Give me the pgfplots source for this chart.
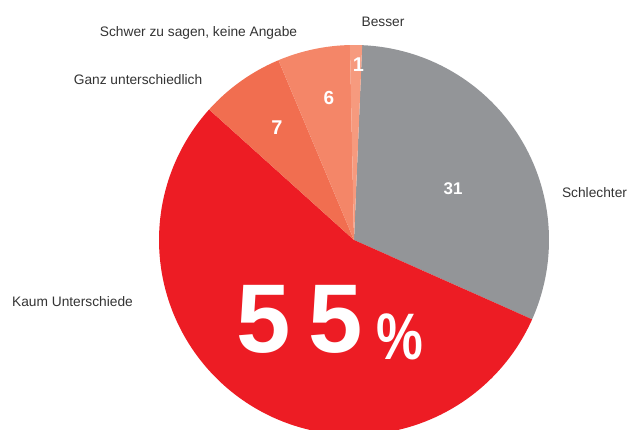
\documentclass[border=0pt]{standalone}
\usepackage{pgfplots}
\pgfplotsset{compat=1.18}
\usepackage{fontspec}
\setmainfont{Liberation Sans}
\definecolor{cGray}{HTML}{939598}
\definecolor{cRed}{HTML}{ED1C24}
\definecolor{cO1}{HTML}{F16E50}
\definecolor{cO2}{HTML}{F48668}
\definecolor{cO3}{HTML}{F69A7E}
\definecolor{txt}{HTML}{333333}
\begin{document}
\begin{tikzpicture}
\path[use as bounding box] (0,0) rectangle (633bp,430bp);
% slice values (percent), clockwise from top
\def\vS{31}\def\vK{55}\def\vG{7}\def\vW{6}\def\vB{1}
\def\cx{354}\def\cy{190}\def\R{195}
\pgfmathsetmacro\aA{87.6}
\pgfmathsetmacro\aB{\aA-3.6*\vS}
\pgfmathsetmacro\aC{\aB-3.6*\vK}
\pgfmathsetmacro\aD{\aC-3.6*\vG}
\pgfmathsetmacro\aE{\aD-3.6*\vW}
\pgfmathsetmacro\aF{\aE-3.6*\vB}
\begin{axis}[at={(0,0)},anchor=south west,width=633bp,height=430bp,scale only axis,
  xmin=0,xmax=633,ymin=0,ymax=430,hide axis,clip=true]
\addplot[fill=cGray,draw=none,domain=\aB:\aA,samples=120,variable=\t]
  ({\cx+\R*cos(\t)},{\cy+\R*sin(\t)}) -- (axis cs:\cx,\cy) -- cycle;
\addplot[fill=cRed,draw=none,domain=\aC:\aB,samples=180,variable=\t]
  ({\cx+\R*cos(\t)},{\cy+\R*sin(\t)}) -- (axis cs:\cx,\cy) -- cycle;
\addplot[fill=cO1,draw=none,domain=\aD:\aC,samples=40,variable=\t]
  ({\cx+\R*cos(\t)},{\cy+\R*sin(\t)}) -- (axis cs:\cx,\cy) -- cycle;
\addplot[fill=cO2,draw=none,domain=\aE:\aD,samples=40,variable=\t]
  ({\cx+\R*cos(\t)},{\cy+\R*sin(\t)}) -- (axis cs:\cx,\cy) -- cycle;
\addplot[fill=cO3,draw=none,domain=\aF:\aE,samples=10,variable=\t]
  ({\cx+\R*cos(\t)},{\cy+\R*sin(\t)}) -- (axis cs:\cx,\cy) -- cycle;
% value labels
\node[white,anchor=base,font=\bfseries\fontsize{17}{17}\selectfont] at (axis cs:453,235) {31};
\node[white,anchor=base,font=\bfseries\fontsize{20}{20}\selectfont] at (axis cs:277,295) {7};
\node[white,anchor=base,font=\bfseries\fontsize{19}{19}\selectfont] at (axis cs:329,325) {6};
\node[white,anchor=base,font=\bfseries\fontsize{20}{20}\selectfont] at (axis cs:358.5,358) {1};
\node[white,anchor=base,inner sep=0pt,font=\bfseries\fontsize{98}{98}\selectfont] at (axis cs:263.5,77) {5};
\node[white,anchor=base,inner sep=0pt,font=\bfseries\fontsize{98}{98}\selectfont] at (axis cs:336,77) {5};
\node[white,anchor=base,inner sep=0pt,xscale=0.8,font=\bfseries\fontsize{66}{66}\selectfont] at (axis cs:399.5,70) {\%};
% category labels
\node[txt,anchor=base,inner sep=0pt,font=\fontsize{13.8}{16}\selectfont] at (axis cs:383,403) {Besser};
\node[txt,anchor=base,inner sep=0pt,font=\fontsize{13.8}{16}\selectfont] at (axis cs:198.5,393) {Schwer zu sagen, keine Angabe};
\node[txt,anchor=base,inner sep=0pt,font=\fontsize{13.8}{16}\selectfont] at (axis cs:138,345) {Ganz unterschiedlich};
\node[txt,anchor=base,inner sep=0pt,font=\fontsize{13.8}{16}\selectfont] at (axis cs:594.5,232) {Schlechter};
\node[txt,anchor=base,inner sep=0pt,font=\fontsize{13.8}{16}\selectfont] at (axis cs:72.5,123) {Kaum Unterschiede};
\end{axis}
\end{tikzpicture}
\end{document}
